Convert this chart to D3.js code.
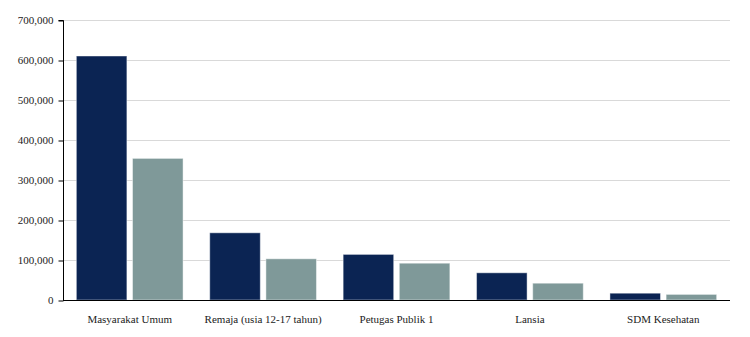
<!DOCTYPE html>
<html>
<head>
<meta charset="utf-8">
<script src="https://cdn.jsdelivr.net/npm/d3@7/dist/d3.min.js"></script>
<style>
  body { margin: 0; background: #fff; }
  svg { display: block; }
  text { font-family: "Liberation Serif", "Times New Roman", serif; }
</style>
</head>
<body>
<svg id="chart" width="750" height="337"></svg>
<script>
const categories = ["Masyarakat Umum", "Remaja (usia 12-17 tahun)", "Petugas Publik 1", "Lansia", "SDM Kesehatan"];
const seriesNames = ["Seri 1", "Seri 2"];
const series1 = [610000, 168000, 114000, 68000, 17000];
const series2 = [354000, 103000, 92000, 42000, 14000];
const yTicks = [0, 100000, 200000, 300000, 400000, 500000, 600000, 700000];
const colors = ["#0b2453", "#7f9999"];

const svg = d3.select("#chart");
const margin = { left: 63, right: 20, top: 20, bottom: 37 };
const W = 750, H = 337;
const x0 = d3.scaleBand().domain(categories).range([margin.left, W - margin.right]).paddingInner(0.2).paddingOuter(0.1);
const x1 = d3.scaleBand().domain(seriesNames).range([0, x0.bandwidth()]).paddingInner(0.1);
const y = d3.scaleLinear().domain([0, 700000]).range([H - margin.bottom, margin.top]);

// gridlines
svg.append("g").selectAll("line").data(yTicks.filter(d => d > 0)).join("line")
  .attr("x1", margin.left).attr("x2", W - margin.right)
  .attr("y1", d => y(d) + 0.5).attr("y2", d => y(d) + 0.5)
  .attr("stroke", "#d9d9d9").attr("stroke-width", 1);

const data = categories.map((c, i) => ({ cat: c, vals: [series1[i], series2[i]] }));
const groups = svg.append("g").selectAll("g").data(data).join("g")
  .attr("transform", d => `translate(${x0(d.cat)},0)`);
groups.selectAll("rect").data(d => d.vals.map((v, j) => ({ v, s: seriesNames[j], j }))).join("rect")
  .attr("x", d => x1(d.s)).attr("width", x1.bandwidth())
  .attr("y", d => y(d.v)).attr("height", d => y(0) - y(d.v))
  .attr("fill", d => colors[d.j])
  .attr("stroke", "rgba(255,255,255,0.45)").attr("stroke-width", 1);

// y axis
const yAxis = d3.axisLeft(y).tickValues(yTicks).tickFormat(d3.format(",")).tickSize(5).tickPadding(5);
const yg = svg.append("g").attr("transform", `translate(${margin.left + 0.5},0)`).call(yAxis);
yg.select(".domain").attr("stroke", "#000").attr("d", `M-5,${y(700000)+0.5}H0V${y(0)}`);
yg.selectAll(".tick line").attr("stroke", "#000").attr("transform", "translate(0,0.5)");
yg.selectAll(".tick text").attr("font-size", 11).attr("fill", "#222").attr("font-family", "Liberation Serif, serif");

// x axis
const xAxis = d3.axisBottom(x0).tickSize(0).tickPadding(15);
const xg = svg.append("g").attr("transform", `translate(0,${y(0) + 0.5})`).call(xAxis);
xg.select(".domain").attr("stroke", "#000").attr("d", `M${margin.left},0H${W - margin.right}`);
xg.selectAll(".tick text").attr("font-size", 11).attr("fill", "#222").attr("font-family", "Liberation Serif, serif");
</script>
</body>
</html>
